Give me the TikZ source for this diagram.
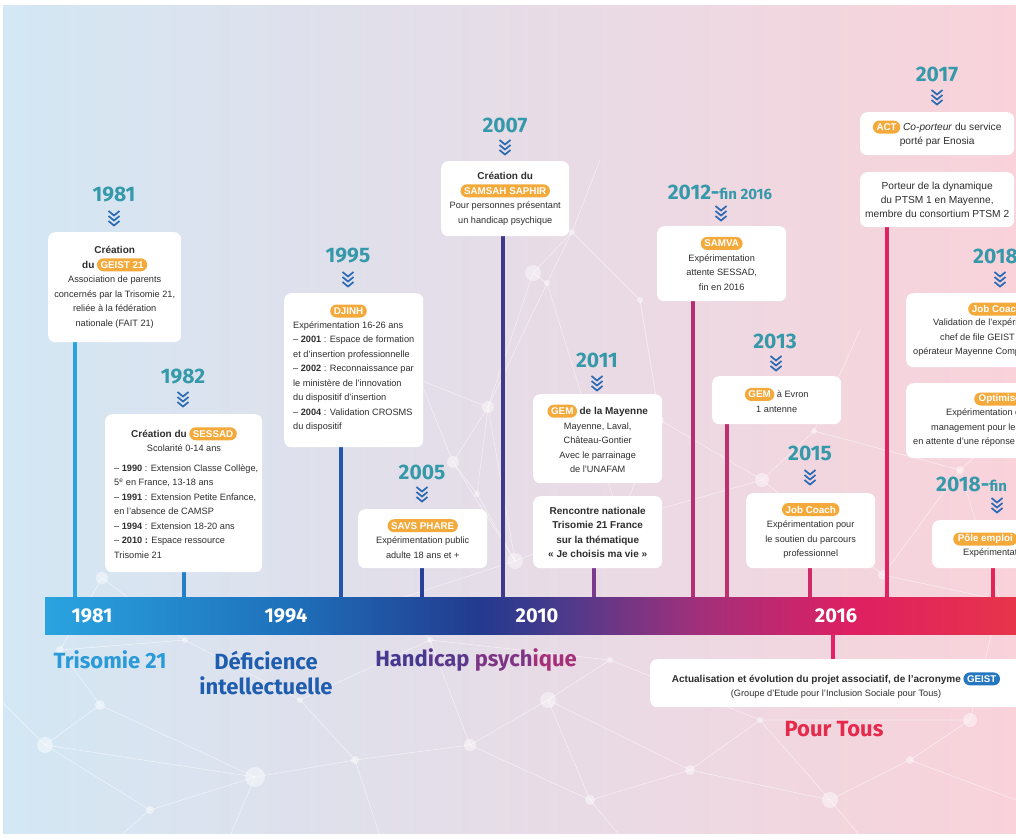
\documentclass[tikz,border=0pt]{standalone}
\usepackage{fontspec}
\setmainfont{Liberation Sans}
\newfontfamily\yfont{Fira Sans}
\usetikzlibrary{shapes.misc}

\definecolor{bgl}{HTML}{D3E7F4}
\definecolor{bgm}{HTML}{E5D8E8}
\definecolor{bgr}{HTML}{F9D2DA}
\definecolor{bar0}{HTML}{2AA4E0}
\definecolor{bar1}{HTML}{1E70BA}
\definecolor{bar2}{HTML}{233A8E}
\definecolor{bar3}{HTML}{4A3A8C}
\definecolor{bar4}{HTML}{A2307A}
\definecolor{bar5}{HTML}{DE1F62}
\definecolor{bar6}{HTML}{E8344A}
\definecolor{txtc}{HTML}{2E2E2E}
\definecolor{yearc}{HTML}{3599AA}
\definecolor{chevc}{HTML}{2A6AB5}
\definecolor{pillc}{HTML}{F4A93B}
\definecolor{geistc}{HTML}{2577BF}
\definecolor{tousc}{HTML}{E62A4C}
\definecolor{trisc}{HTML}{2B9AD8}
\definecolor{defc}{HTML}{1F5EAE}
\definecolor{hp1}{HTML}{47398F}
\definecolor{hp2}{HTML}{5A388C}
\definecolor{hp3}{HTML}{7E3585}
\definecolor{hp4}{HTML}{A53079}
\definecolor{c1981}{HTML}{2BA3DF}
\definecolor{c1982}{HTML}{2480C6}
\definecolor{c1995}{HTML}{2457A8}
\definecolor{c2005}{HTML}{27409A}
\definecolor{c2007}{HTML}{3F3A8B}
\definecolor{c2011}{HTML}{7B3B8C}
\definecolor{c2012}{HTML}{B42F75}
\definecolor{c2013}{HTML}{C22D70}
\definecolor{c2015}{HTML}{D02A69}
\definecolor{c2016}{HTML}{E4206A}
\definecolor{c2017}{HTML}{E2215F}
\definecolor{c2018}{HTML}{E52456}

\pgfdeclarehorizontalshading{barshade}{100bp}{color(0bp)=(bar0); color(25bp)=(bar0);
  color(37.6bp)=(bar1); color(47.4bp)=(bar2); color(51.5bp)=(bar3); color(58.7bp)=(bar4);
  color(66.5bp)=(bar5); color(75bp)=(bar6); color(100bp)=(bar6)}

\newcommand\hd{\fontsize{10}{14.5}\selectfont\bfseries}
\newcommand\etiq[2][pillc]{\tikz[baseline=(e.base)]\node[pill,fill=#1](e){#2};}

\begin{document}
\begin{tikzpicture}[x=1pt,y=-1pt,
  card/.style={fill=white,rounded corners=7pt,inner sep=0pt,anchor=north west},
  txt/.style={font=\fontsize{9.2}{14.5}\selectfont,text=txtc,align=center,inner sep=0pt},
  big/.style={font=\fontsize{10.2}{14.2}\selectfont,text=txtc,align=center,inner sep=0pt},
  year/.style={font=\yfont\bfseries\fontsize{21}{21}\selectfont,text=yearc,inner sep=0pt},
  barlab/.style={font=\yfont\bfseries\fontsize{20}{20}\selectfont,text=white,inner sep=0pt},
  theme/.style={font=\yfont\bfseries\fontsize{22}{25}\selectfont,align=center,inner sep=0pt},
  tick/.style={line width=3.2pt},
  pill/.style={rounded rectangle,fill=pillc,text=white,font=\fontsize{9.8}{10}\selectfont\bfseries,
    inner xsep=2.6pt,inner ysep=0pt,minimum height=13pt,minimum width=0pt},
  net/.style={white,opacity=.55,line width=.6pt},
  netdot/.style={white,opacity=.45},
  chev/.pic={\draw[chevc,line width=1.7pt] (-5.5,-7) -- (0,-2.5) -- (5.5,-7)
    (-5.5,-2) -- (0,2.5) -- (5.5,-2) (-5.5,3) -- (0,7.5) -- (5.5,3);}]
\useasboundingbox (0,0) rectangle (1016,836);
\clip (0,0) rectangle (1016,836);
\fill[white] (0,0) rectangle (1016,836);
\shade[left color=bgl,middle color=bgm,right color=bgr] (3,5) rectangle (1016,833);

%reseau
\draw[net] (572,232) -- (533,273) -- (488,407) -- (453,462) -- (515,561) -- (620,520) -- (547,283) -- (572,232) -- (640,300) -- (660,420) -- (620,520);
\draw[net] (533,273) -- (547,283) -- (488,407) -- (477,494) -- (515,561) -- (395,600) (453,462) -- (477,494) (488,407) -- (515,561) (420,380) -- (488,407) (420,380) -- (453,462) (572,232) -- (600,160);
\draw[net] (660,420) -- (762,480) -- (814,431) -- (960,470) -- (883,575) -- (762,480) -- (620,520) (883,575) -- (1000,600) -- (960,470) -- (1016,420) (814,431) -- (860,330);
\draw[net] (102,578) -- (60,650) -- (100,705) -- (45,745) -- (255,777) -- (100,705) (60,650) -- (185,640) -- (300,700) -- (355,760) -- (255,777) -- (150,810) -- (45,745) (102,578) -- (185,640) (45,745) -- (0,700) (150,810) -- (120,836);
\draw[net] (300,700) -- (430,640) -- (470,745) -- (355,760) (430,640) -- (395,600) (470,745) -- (548,700) -- (610,660) -- (430,640) (548,700) -- (590,800) -- (470,745) (590,800) -- (690,770) -- (548,700) (610,660) -- (760,720) -- (690,770) -- (830,800) -- (760,720) -- (970,720) -- (910,760) -- (830,800) (970,720) -- (1000,600) (910,760) -- (1016,800) (255,777) -- (230,836) (590,800) -- (620,836) (355,760) -- (380,836) (830,800) -- (860,836);
\fill[netdot] (572,232) circle (3) (533,273) circle (8) (547,283) circle (3) (488,407) circle (6) (453,462) circle (6) (477,494) circle (3) (515,561) circle (8) (620,520) circle (3) (640,300) circle (3) (660,420) circle (4) (420,380) circle (3) (762,480) circle (7) (814,431) circle (3) (960,470) circle (4) (883,575) circle (5) (1000,600) circle (3) (102,578) circle (6) (60,650) circle (4) (100,705) circle (5) (45,745) circle (8) (185,640) circle (3) (255,777) circle (10) (355,760) circle (4) (300,700) circle (3) (430,640) circle (3) (395,600) circle (3) (470,745) circle (6) (548,700) circle (8) (610,660) circle (3) (590,800) circle (5) (690,770) circle (5) (760,720) circle (3) (830,800) circle (8) (910,760) circle (4) (970,720) circle (7) (150,810) circle (4);

%frise
\node[shade,shading=barshade,minimum width=971pt,minimum height=37pt,inner sep=0pt,anchor=north west] (bar) at (45,597) {};
\node[barlab] (a1981) at (92,616) {1981};
\node[barlab] (a1994) at (286,616) {1994};
\node[barlab] (a2010) at (537,616) {2010};
\node[barlab] (a2016) at (836,616) {2016};

%traits
\coordinate (t1981) at (75,342);
\coordinate (t1982) at (184,572);
\coordinate (t1995) at (341,447);
\coordinate (t2005) at (422,568);
\coordinate (t2007) at (503,236);
\coordinate (t2011) at (594,568);
\coordinate (t2012) at (693,301);
\coordinate (t2013) at (727,424);
\coordinate (t2015) at (810,568);
\coordinate (t2017) at (887,227);
\coordinate (t2018) at (993,568);
\coordinate (t2016) at (833,659);
\draw[tick,c1981] (t1981) -- (t1981 |- bar.north);
\draw[tick,c1982] (t1982) -- (t1982 |- bar.north);
\draw[tick,c1995] (t1995) -- (t1995 |- bar.north);
\draw[tick,c2005] (t2005) -- (t2005 |- bar.north);
\draw[tick,c2007] (t2007) -- (t2007 |- bar.north);
\draw[tick,c2011] (t2011) -- (t2011 |- bar.north);
\draw[tick,c2012] (t2012) -- (t2012 |- bar.north);
\draw[tick,c2013] (t2013) -- (t2013 |- bar.north);
\draw[tick,c2015] (t2015) -- (t2015 |- bar.north);
\draw[tick,c2017] (t2017) -- (t2017 |- bar.north);
\draw[tick,c2018] (t2018) -- (t2018 |- bar.north);
\draw[tick,c2016] (t2016 |- bar.south) -- (t2016);

%1981
\node[year] (y1981) at (114,195) {1981};
\pic at (114,218) {chev};
\node[card,minimum width=133pt,minimum height=110pt] (b1981) at (48,232) {};
\node[txt] (x1981) at (b1981.center) {{\hd Création}\\{\hd du} \etiq{GEIST 21}\\Association de parents\\concernés par la Trisomie 21,\\reliée à la fédération\\nationale (FAIT 21)};

%1982
\node[year] (y1982) at (183,377) {1982};
\pic at (183,399) {chev};
\node[card,minimum width=157pt,minimum height=158pt] (b1982) at (105,414) {};
\node[txt] (h1982) at (184,439.5) {{\hd Création du} \etiq{SESSAD}\\Scolarité 0-14 ans};
\node[txt,align=left,anchor=west] (x1982) at (114,511.5) {– \textbf{1990} : Extension Classe Collège,\\5\textsuperscript{e} en France, 13-18 ans\\– \textbf{1991} : Extension Petite Enfance,\\en l’absence de CAMSP\\– \textbf{1994} : Extension 18-20 ans\\– \textbf{2010 :} Espace ressource\\Trisomie 21};

%1995
\node[year] (y1995) at (348,256) {1995};
\pic at (348,279) {chev};
\node[card,minimum width=139pt,minimum height=154pt] (b1995) at (284,293) {};
\node[pill] (p1995) at (348.5,311) {DJINH};
\node[txt,align=left,anchor=west] (x1995) at (293,376.5) {Expérimentation 16-26 ans\\– \textbf{2001} : Espace de formation\\et d’insertion professionnelle\\– \textbf{2002} : Reconnaissance par\\le ministère de l’innovation\\du dispositif d’insertion\\– \textbf{2004} : Validation CROSMS\\du dispositif};

%2005
\node[year] (y2005) at (422,472) {2005};
\pic at (422,494) {chev};
\node[card,minimum width=129pt,minimum height=59pt] (b2005) at (358,509) {};
\node[txt] (x2005) at (b2005.center) {\etiq{SAVS PHARE}\\Expérimentation public\\adulte 18 ans et +};

%2007
\node[year] (y2007) at (505,125) {2007};
\pic at (505,147) {chev};
\node[card,minimum width=128pt,minimum height=75pt] (b2007) at (441,161) {};
\node[txt] (x2007) at (b2007.center) {{\hd Création du}\\\etiq{SAMSAH SAPHIR}\\Pour personnes présentant\\un handicap psychique};

%2011
\node[year] (y2011) at (597,360) {2011};
\pic at (597,383) {chev};
\node[card,minimum width=129pt,minimum height=89pt] (b2011a) at (533,394) {};
\node[txt] (x2011a) at (b2011a.center) {\etiq{GEM} {\hd de la Mayenne}\\Mayenne, Laval,\\Château-Gontier\\Avec le parrainage\\de l’UNAFAM};
\node[card,minimum width=129pt,minimum height=72pt] (b2011b) at (533,496) {};
\node[txt,font=\hd] (x2011b) at (b2011b.center) {Rencontre nationale\\Trisomie 21 France\\sur la thématique\\«~Je choisis ma vie~»};

%2012
\node[year] (y2012) at (720,192) {2012-{\fontsize{15}{15}\selectfont fin 2016}};
\pic at (721,213) {chev};
\node[card,minimum width=129pt,minimum height=75pt] (b2012) at (657,226) {};
\node[txt] (x2012) at (b2012.center) {\etiq{SAMVA}\\Expérimentation\\attente SESSAD,\\fin en 2016};

%2013
\node[year] (y2013) at (775,341) {2013};
\pic at (776,363) {chev};
\node[card,minimum width=129pt,minimum height=48pt] (b2013) at (712,376) {};
\node[txt] (x2013) at (b2013.center) {\etiq{GEM} à Evron\\1 antenne};

%2015
\node[year] (y2015) at (810,453) {2015};
\pic at (810,477) {chev};
\node[card,minimum width=129pt,minimum height=75pt] (b2015) at (746,493) {};
\node[txt] (x2015) at (b2015.center) {\etiq{Job Coach}\\Expérimentation pour\\le soutien du parcours\\professionnel};

%2017
\node[year] (y2017) at (937,74) {2017};
\pic at (937,97) {chev};
\node[card,minimum width=154pt,minimum height=43pt] (b2017a) at (860,112) {};
\node[big] (x2017a) at (b2017a.center) {\etiq{ACT} \textit{Co-porteur} du service\\porté par Enosia};
\node[card,minimum width=154pt,minimum height=55pt] (b2017b) at (860,172) {};
\node[big] (x2017b) at (b2017b.center) {Porteur de la dynamique\\du PTSM 1 en Mayenne,\\membre du consortium PTSM 2};

%2018
\node[year,anchor=west] (y2018) at (973,256) {2018};
\pic at (1000,279) {chev};
\node[card,minimum width=130pt,minimum height=74pt] (b2018a) at (906,293) {};
\node[pill,anchor=west] (p2018a) at (968,309) {Job Coach};
\node[txt,anchor=west] (x2018a) at (933,323) {Validation de l’expérimentation};
\node[txt,anchor=west] (x2018b) at (940,337) {chef de file GEIST 21};
\node[txt,anchor=west] (x2018c) at (913,352) {opérateur Mayenne Compétences};
\node[card,minimum width=130pt,minimum height=75pt] (b2018b) at (906,383) {};
\node[pill,anchor=west] (p2018b) at (974,399) {Optimisé};
\node[txt,anchor=west] (x2018d) at (946,413) {Expérimentation c};
\node[txt,anchor=west] (x2018e) at (931,428) {management pour les};
\node[txt,anchor=west] (x2018f) at (913,442) {en attente d’une réponse};

%2018-fin
\node[year,anchor=west] (y2018f) at (936,484) {2018-{\fontsize{15}{15}\selectfont fin}};
\pic at (997,505) {chev};
\node[card,minimum width=110pt,minimum height=48pt] (b2018c) at (932,520) {};
\node[pill,anchor=west] (p2018c) at (953,539) {Pôle emploi};
\node[txt,anchor=west] (x2018g) at (963,553) {Expérimentation};

%2016
\node[card,minimum width=380pt,minimum height=48pt] (b2016) at (650,659) {};
\node[txt] (x2016) at (836,685.5) {{\hd Actualisation et évolution du projet associatif, de l’acronyme} \etiq[geistc]{GEIST}\\(Groupe d’Etude pour l’Inclusion Sociale pour Tous)};
\node[theme,text=tousc] (th4) at (834,729) {Pour Tous};

%themes
\node[theme,text=trisc] (th1) at (110,660) {Trisomie 21};
\node[theme,text=defc] (th2) at (266,672.5) {Déficience\\intellectuelle};
\node[theme] (th3) at (476,660) {\textcolor{hp1}{Hand}\textcolor{hp2}{icap} \textcolor{hp3}{psych}\textcolor{hp4}{ique}};
\end{tikzpicture}
\end{document}
